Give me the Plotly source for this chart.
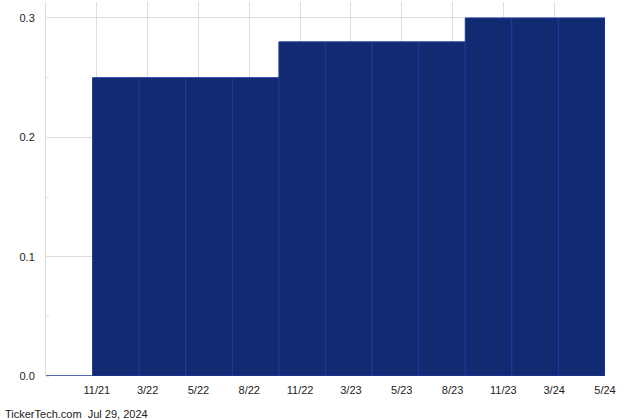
import plotly.graph_objects as go

# 배당 금액 (분기별), 첫 구간은 0
dividends = [0, 0.25, 0.25, 0.25, 0.25, 0.28, 0.28, 0.28, 0.28, 0.30, 0.30, 0.30]
tick_labels = ['11/21', '3/22', '5/22', '8/22', '11/22', '3/23', '5/23',
               '8/23', '11/23', '3/24', '5/24']
footer = 'TickerTech.com  Jul 29, 2024'

n_bars = len(dividends)
n_ticks = len(tick_labels)
bar_x = [i + 0.5 for i in range(n_bars)]
tick_vals = [(k + 1) * n_bars / n_ticks for k in range(n_ticks)]

fig = go.Figure()
fig.add_trace(go.Bar(
    x=bar_x,
    y=dividends,
    width=1,
    marker=dict(color='#122a72', line=dict(color='#1d3a9e', width=1)),
    hoverinfo='skip',
))

fig.update_layout(
    width=640,
    height=420,
    margin=dict(l=46, r=35, t=2, b=44),
    paper_bgcolor='white',
    plot_bgcolor='white',
    showlegend=False,
    hovermode=False,
    font=dict(family='Liberation Sans, Arial, sans-serif', size=11, color='#222'),
    bargap=0,
)

fig.update_xaxes(
    range=[0, n_bars],
    tickvals=tick_vals,
    ticktext=tick_labels,
    showgrid=True,
    gridcolor='#dddddd',
    gridwidth=1,
    zeroline=False,
    showline=False,
    ticks='',
    ticklabelstandoff=6,
)

fig.update_yaxes(
    range=[0, 0.3134],
    tickvals=[0, 0.1, 0.2, 0.3],
    tickformat='.1f',
    showgrid=True,
    gridcolor='#dddddd',
    gridwidth=1,
    zeroline=False,
    showline=True,
    linecolor='#dddddd',
    linewidth=1,
    ticks='',
    ticklabelstandoff=8,
    minor=dict(dtick=0.05, ticks='inside', ticklen=3, tickcolor='#dddddd', showgrid=False),
)

fig.add_annotation(
    text=footer,
    xref='paper', yref='paper',
    x=-43 / 559, y=-38 / 374,
    xanchor='left', yanchor='middle',
    showarrow=False,
    font=dict(size=11, color='#222'),
)

# 페이지 기본 여백 제거, 툴바 숨김
fig.write_html('out.html', config={'displayModeBar': False, 'staticPlot': True},
               post_script="document.body.style.margin='0px';")
